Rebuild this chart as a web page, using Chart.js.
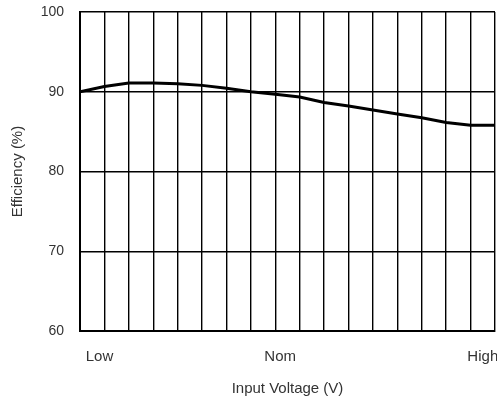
<!DOCTYPE html>
<html>
<head>
<meta charset="utf-8">
<script src="https://cdn.jsdelivr.net/npm/chart.js@4"></script>
<style>
  html, body { margin: 0; padding: 0; background: #fff; }
  #wrap { width: 497px; height: 402px; }
</style>
</head>
<body>
<div id="wrap"><canvas id="effChart"></canvas></div>
<script>
// grid columns along the input voltage range (17 divisions)
const steps = [0, 1, 2, 3, 4, 5, 6, 7, 8, 9, 10, 11, 12, 13, 14, 15, 16, 17];
const efficiency = [90.0, 90.65, 91.1, 91.1, 91.0, 90.8, 90.45, 90.0, 89.7, 89.35, 88.65, 88.2, 87.7, 87.2, 86.75, 86.15, 85.8, 85.8];

// category labels under the axis and where they sit on the step scale
const voltageNames = ['Low', 'Nom', 'High'];
const voltagePos = [0.8, 8.2, 16.5];

const yTicks = [60, 70, 80, 90, 100];

const family = '"Liberation Sans", Arial, sans-serif';
const tickFont = { family, size: 14 };
const titleFont = { family, size: 15 };
const textColor = '#333';

const ctx = document.getElementById('effChart').getContext('2d');
new Chart(ctx, {
  type: 'line',
  data: {
    datasets: [{
      data: steps.map((s, i) => ({ x: s, y: efficiency[i] })),
      xAxisID: 'x',
      borderColor: '#000',
      borderWidth: 3,
      pointRadius: 0,
      tension: 0,
      fill: false
    }]
  },
  options: {
    responsive: true,
    maintainAspectRatio: false,
    animation: false,
    layout: { padding: { top: 0, right: 2, left: 5, bottom: 0 } },
    plugins: { legend: { display: false }, tooltip: { enabled: false } },
    scales: {
      x: {
        type: 'linear',
        position: 'bottom',
        min: steps[0],
        max: steps[steps.length - 1],
        afterBuildTicks: s => { s.ticks = steps.map(v => ({ value: v })); },
        ticks: { display: false },
        grid: { color: '#000', lineWidth: 1.4, drawTicks: false },
        border: { color: '#000', width: 2 }
      },
      xl: {
        type: 'linear',
        position: 'bottom',
        min: steps[0],
        max: steps[steps.length - 1],
        afterBuildTicks: s => { s.ticks = voltagePos.map(v => ({ value: v })); },
        afterFit: s => { s.paddingLeft = 0; s.paddingRight = 0; },
        ticks: {
          font: titleFont, color: textColor, padding: 17, maxRotation: 0, autoSkip: false,
          callback: (v, i) => voltageNames[i]
        },
        grid: { display: false, drawTicks: false },
        border: { display: false },
        title: { display: true, text: 'Input Voltage (V)', font: titleFont, color: textColor, padding: { top: -3, bottom: 4 } }
      },
      y: {
        min: 60,
        max: 100,
        afterBuildTicks: s => { s.ticks = yTicks.map(v => ({ value: v })); },
        afterFit: s => { s.width = 75; s.paddingTop = 12; s.paddingBottom = 0; },
        ticks: { font: tickFont, color: textColor, padding: 16 },
        grid: { color: '#000', lineWidth: 1.4, drawTicks: false },
        border: { color: '#000', width: 2 },
        title: { display: true, text: 'Efficiency (%)', font: titleFont, color: textColor, padding: 4 }
      }
    }
  }
});
</script>
</body>
</html>
